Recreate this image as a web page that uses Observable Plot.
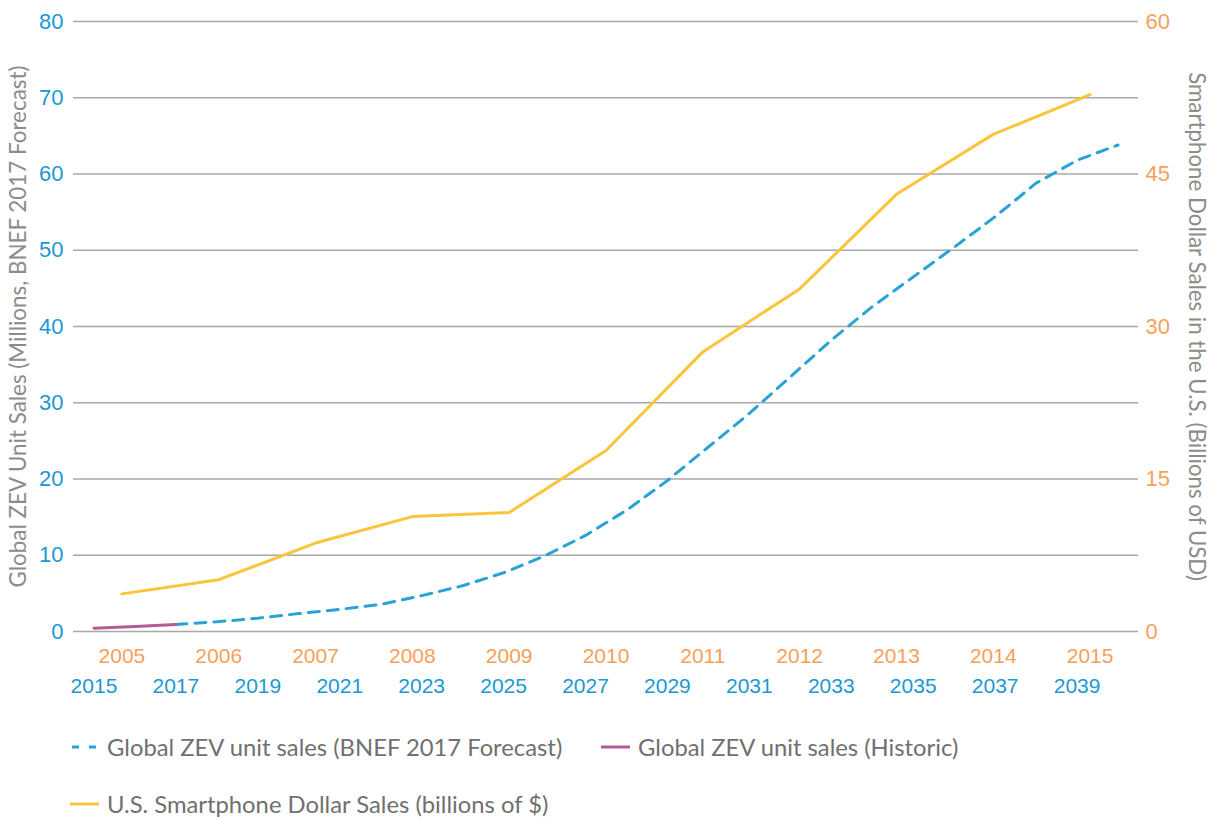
<!DOCTYPE html>
<html>
<head>
<meta charset="utf-8">
<script src="https://cdn.jsdelivr.net/npm/d3@7"></script>
<script src="https://cdn.jsdelivr.net/npm/@observablehq/plot@0.6"></script>
<style>
  html, body { margin: 0; padding: 0; background: #fff; }
  #wrap { position: relative; width: 1216px; height: 817px; }
  .leg { position: absolute; display: flex; align-items: center; font-family: "Lato", "Liberation Sans", sans-serif; font-size: 23.8px; color: #707070; white-space: nowrap; }
  .leg svg { margin-right: 8px; }
</style>
</head>
<body>
<div id="wrap"></div>
<script>
// ---- Data ----
const historicYears = [2015, 2016, 2017];
const historicSales = [0.44, 0.66, 0.92];

const forecastYears = [2017, 2018, 2019, 2020, 2021, 2022, 2023, 2024, 2025, 2026, 2027, 2028,
  2029, 2030, 2031, 2032, 2033, 2034, 2035, 2036, 2037, 2038, 2039, 2040];
const forecastSales = [0.92, 1.27, 1.75, 2.35, 2.9, 3.55, 4.7, 6.0, 7.7, 9.9, 12.6, 15.9,
  19.8, 24.2, 28.6, 33.4, 38.2, 42.6, 46.5, 50.4, 54.4, 58.8, 61.8, 63.8];

const phoneYears = [2005, 2006, 2007, 2008, 2009, 2010, 2011, 2012, 2013, 2014, 2015];
const phoneSales = [3.7, 5.1, 8.7, 11.3, 11.7, 17.8, 27.5, 33.7, 43.0, 48.9, 52.8];

const leftTicks = [0, 10, 20, 30, 40, 50, 60, 70, 80];
const rightTicks = [0, 15, 30, 45, 60];
const zevTickYears = [2015, 2017, 2019, 2021, 2023, 2025, 2027, 2029, 2031, 2033, 2035, 2037, 2039];
const phoneTickYears = phoneYears;

const leftTitle = "Global ZEV Unit Sales (Millions, BNEF 2017 Forecast)";
const rightTitle = "Smartphone Dollar Sales in the U.S. (Billions of USD)";
const legendLabels = [
  "Global ZEV unit sales (BNEF 2017 Forecast)",
  "Global ZEV unit sales (Historic)",
  "U.S. Smartphone Dollar Sales (billions of $)"
];

// ---- Colours ----
const blue = "#1b98d3";
const dashBlue = "#29a3d6";
const orange = "#f6a05a";
const yellow = "#fcc43a";
const purple = "#b35a98";
const grey = "#8c8c8c";

// ---- Secondary axes mapped onto the primary scales ----
const zevDomain = [2014.5, 2040.5];
const phoneDomain = [2004.5, 2015.5];
const phoneToX = yr => zevDomain[0] + (yr - phoneDomain[0]) * (zevDomain[1] - zevDomain[0]) / (phoneDomain[1] - phoneDomain[0]);
const leftMax = 80, rightMax = 60;
const rightToY = v => v * leftMax / rightMax;

const historic = historicYears.map((x, i) => ({x, y: historicSales[i]}));
const forecast = forecastYears.map((x, i) => ({x, y: forecastSales[i]}));
const phone = phoneYears.map((yr, i) => ({x: phoneToX(yr), y: rightToY(phoneSales[i])}));

const tickFont = "'Liberation Sans Narrow', 'Liberation Sans', sans-serif";
const titleFont = "Lato, 'Liberation Sans', sans-serif";

const chart = Plot.plot({
  width: 1216,
  height: 717,
  marginTop: 21,
  marginBottom: 86,
  marginLeft: 73,
  marginRight: 78,
  style: {fontFamily: tickFont, background: "#fff"},
  x: {domain: zevDomain, axis: null},
  y: {domain: [0, leftMax], axis: null},
  marks: [
    Plot.gridY(leftTicks, {stroke: "#a8a8a8", strokeOpacity: 1, strokeWidth: 1.4}),
    Plot.axisY(leftTicks, {anchor: "left", tickSize: 0, tickPadding: 10, fontSize: 22, fill: blue, label: null}),
    Plot.axisY(rightTicks.map(rightToY), {anchor: "right", tickSize: 0, tickPadding: 7, fontSize: 22, fill: orange,
      tickFormat: (d, i) => String(rightTicks[i]), label: null}),
    Plot.axisX(phoneTickYears.map(phoneToX), {anchor: "bottom", tickSize: 0, tickPadding: 17, fontSize: 21, fill: orange,
      tickFormat: (d, i) => String(phoneTickYears[i]), label: null}),
    Plot.axisX(zevTickYears, {anchor: "bottom", tickSize: 0, tickPadding: 47, fontSize: 21, fill: blue,
      tickFormat: d => String(d), label: null}),
    Plot.text([leftTitle], {frameAnchor: "left", dx: -55, rotate: -90, fontSize: 22.4, fill: grey, fontFamily: titleFont, textAnchor: "middle"}),
    Plot.text([rightTitle], {frameAnchor: "right", dx: 58, rotate: 90, fontSize: 22.3, fill: grey, fontFamily: titleFont, textAnchor: "middle"}),
    Plot.line(phone, {x: "x", y: "y", stroke: yellow, strokeWidth: 3}),
    Plot.line(forecast, {x: "x", y: "y", stroke: dashBlue, strokeWidth: 3, strokeDasharray: "11,8"}),
    Plot.line(historic, {x: "x", y: "y", stroke: purple, strokeWidth: 3})
  ]
});

const wrap = document.getElementById("wrap");
wrap.appendChild(chart);

function legendItem(label, color, dashed, left, top) {
  const d = document.createElement("div");
  d.className = "leg";
  d.style.left = left + "px";
  d.style.top = top + "px";
  const sw = dashed
    ? `<svg width="29" height="6"><line x1="0" x2="29" y1="3" y2="3" stroke="${color}" stroke-width="3" stroke-dasharray="7,10" stroke-dashoffset="-2"/></svg>`
    : `<svg width="29" height="6"><line x1="0" x2="29" y1="3" y2="3" stroke="${color}" stroke-width="3"/></svg>`;
  d.innerHTML = sw + `<span>${label}</span>`;
  wrap.appendChild(d);
}
legendItem(legendLabels[0], dashBlue, true, 70, 733);
legendItem(legendLabels[1], purple, false, 601, 733);
legendItem(legendLabels[2], yellow, false, 70, 790);
</script>
</body>
</html>
